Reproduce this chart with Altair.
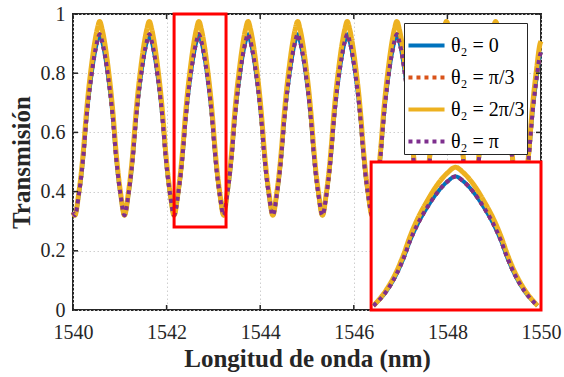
import altair as alt
import pandas as pd

# ---- data (wavelength in nm, transmission) ----
wavelength = [
    1540.000, 1540.041,
    1540.123, 1540.187, 1540.235, 1540.275, 1540.323, 1540.384, 1540.458, 1540.520, 1540.570,
    1540.620, 1540.682, 1540.756, 1540.817, 1540.865, 1540.905, 1540.953, 1541.017, 1541.100,
    1541.183, 1541.247, 1541.295, 1541.335, 1541.383, 1541.444, 1541.518, 1541.580, 1541.630,
    1541.680, 1541.742, 1541.816, 1541.877, 1541.925, 1541.965, 1542.013, 1542.077, 1542.160,
    1542.243, 1542.307, 1542.355, 1542.395, 1542.443, 1542.504, 1542.578, 1542.640, 1542.690,
    1542.740, 1542.802, 1542.876, 1542.937, 1542.985, 1543.025, 1543.073, 1543.137, 1543.220,
    1543.293, 1543.357, 1543.405, 1543.445, 1543.493, 1543.554, 1543.628, 1543.690, 1543.740,
    1543.790, 1543.852, 1543.926, 1543.987, 1544.035, 1544.075, 1544.123, 1544.187, 1544.270,
    1544.353, 1544.417, 1544.465, 1544.505, 1544.553, 1544.614, 1544.688, 1544.750, 1544.800,
    1544.850, 1544.912, 1544.986, 1545.047, 1545.095, 1545.135, 1545.183, 1545.247, 1545.330,
    1545.413, 1545.477, 1545.525, 1545.565, 1545.613, 1545.674, 1545.748, 1545.810, 1545.860,
    1545.910, 1545.972, 1546.046, 1546.107, 1546.155, 1546.195, 1546.243, 1546.307, 1546.390,
    1546.473, 1546.537, 1546.585, 1546.625, 1546.673, 1546.734, 1546.808, 1546.870, 1546.920,
    1546.970, 1547.032, 1547.106, 1547.167, 1547.215, 1547.255, 1547.303, 1547.367, 1547.450,
    1547.533, 1547.597, 1547.645, 1547.685, 1547.733, 1547.794, 1547.868, 1547.930, 1547.980,
    1548.030, 1548.092, 1548.166, 1548.227, 1548.275, 1548.315, 1548.363, 1548.427, 1548.510,
    1548.583, 1548.647, 1548.695, 1548.735, 1548.783, 1548.844, 1548.918, 1548.980, 1549.030,
    1549.080, 1549.142, 1549.216, 1549.277, 1549.325, 1549.365, 1549.413, 1549.477, 1549.560,
    1549.643, 1549.707, 1549.755, 1549.795, 1549.843, 1549.904, 1549.978, 1550.000,
]

t_theta_0 = [
    0.330, 0.320,
    0.388, 0.467, 0.546, 0.625, 0.703, 0.782, 0.861, 0.909, 0.932,
    0.909, 0.861, 0.782, 0.703, 0.625, 0.546, 0.467, 0.388, 0.320,
    0.388, 0.467, 0.546, 0.625, 0.703, 0.782, 0.861, 0.909, 0.932,
    0.909, 0.861, 0.782, 0.703, 0.625, 0.546, 0.467, 0.388, 0.320,
    0.388, 0.467, 0.546, 0.625, 0.703, 0.782, 0.861, 0.909, 0.932,
    0.909, 0.861, 0.782, 0.703, 0.625, 0.546, 0.467, 0.388, 0.320,
    0.388, 0.467, 0.546, 0.625, 0.703, 0.782, 0.861, 0.909, 0.932,
    0.909, 0.861, 0.782, 0.703, 0.625, 0.546, 0.467, 0.388, 0.320,
    0.388, 0.467, 0.546, 0.625, 0.703, 0.782, 0.861, 0.909, 0.932,
    0.909, 0.861, 0.782, 0.703, 0.625, 0.546, 0.467, 0.388, 0.320,
    0.388, 0.467, 0.546, 0.625, 0.703, 0.782, 0.861, 0.909, 0.932,
    0.909, 0.861, 0.782, 0.703, 0.625, 0.546, 0.467, 0.388, 0.320,
    0.388, 0.467, 0.546, 0.625, 0.703, 0.782, 0.861, 0.909, 0.932,
    0.909, 0.861, 0.782, 0.703, 0.625, 0.546, 0.467, 0.388, 0.320,
    0.388, 0.467, 0.546, 0.625, 0.703, 0.782, 0.861, 0.909, 0.932,
    0.909, 0.861, 0.782, 0.703, 0.625, 0.546, 0.467, 0.388, 0.320,
    0.388, 0.467, 0.546, 0.625, 0.703, 0.782, 0.861, 0.909, 0.932,
    0.909, 0.861, 0.782, 0.703, 0.625, 0.546, 0.467, 0.388, 0.320,
    0.388, 0.467, 0.546, 0.625, 0.703, 0.782, 0.861, 0.872,
]

t_theta_pi3 = list(t_theta_0)   # drawn exactly under theta2 = 0 / theta2 = pi

t_theta_2pi3 = [
    0.330, 0.320,
    0.395, 0.479, 0.563, 0.645, 0.728, 0.812, 0.898, 0.950, 0.975,
    0.950, 0.898, 0.812, 0.728, 0.645, 0.563, 0.479, 0.395, 0.320,
    0.395, 0.479, 0.563, 0.645, 0.728, 0.812, 0.898, 0.950, 0.975,
    0.950, 0.898, 0.812, 0.728, 0.645, 0.563, 0.479, 0.395, 0.320,
    0.395, 0.479, 0.563, 0.645, 0.728, 0.812, 0.898, 0.950, 0.975,
    0.950, 0.898, 0.812, 0.728, 0.645, 0.563, 0.479, 0.395, 0.320,
    0.395, 0.479, 0.563, 0.645, 0.728, 0.812, 0.898, 0.950, 0.975,
    0.950, 0.898, 0.812, 0.728, 0.645, 0.563, 0.479, 0.395, 0.320,
    0.395, 0.479, 0.563, 0.645, 0.728, 0.812, 0.898, 0.950, 0.975,
    0.950, 0.898, 0.812, 0.728, 0.645, 0.563, 0.479, 0.395, 0.320,
    0.395, 0.479, 0.563, 0.645, 0.728, 0.812, 0.898, 0.950, 0.975,
    0.950, 0.898, 0.812, 0.728, 0.645, 0.563, 0.479, 0.395, 0.320,
    0.395, 0.479, 0.563, 0.645, 0.728, 0.812, 0.898, 0.950, 0.975,
    0.950, 0.898, 0.812, 0.728, 0.645, 0.563, 0.479, 0.395, 0.320,
    0.395, 0.479, 0.563, 0.645, 0.728, 0.812, 0.898, 0.950, 0.975,
    0.950, 0.898, 0.812, 0.728, 0.645, 0.563, 0.479, 0.395, 0.320,
    0.395, 0.479, 0.563, 0.645, 0.728, 0.812, 0.898, 0.950, 0.975,
    0.950, 0.898, 0.812, 0.728, 0.645, 0.563, 0.479, 0.395, 0.320,
    0.395, 0.479, 0.563, 0.645, 0.728, 0.812, 0.898, 0.908,
]

t_theta_pi = list(t_theta_0)    # visually coincides with theta2 = 0

series_names = ["θ₂ = 0", "θ₂ = π/3", "θ₂ = 2π/3", "θ₂ = π"]
series_values = [t_theta_0, t_theta_pi3, t_theta_2pi3, t_theta_pi]

x_ticks = [1540, 1542, 1544, 1546, 1548, 1550]
y_ticks = [0, 0.2, 0.4, 0.6, 0.8, 1]

# highlighted region in the main plot and its zoomed copy (inset)
zoom_wl = [1542.145, 1543.242]
zoom_t = [0.30, 1.00]
highlight_box = {"x0": [1542.16], "x1": [1543.27], "y0": [0.28], "y1": [1.0]}
inset_box = {"x0": [1546.37], "x1": [1550.0], "y0": [0.0], "y1": [0.5]}

# ---- styles ----
FONT = "Liberation Serif"
colors = ["#0072BD", "#D95319", "#EDB120", "#7E2F8E"]
dashes = [[1, 0], [4, 4], [1, 0], [4, 4]]
widths = [4, 4, 5, 4]
W, H = 468, 296
AX = "#262626"
XT = "Longitud de onda (nm)"
YT = "Transmisión"
CURVE = "monotone"

rows = []
for name, vals in zip(series_names, series_values):
    for w, t in zip(wavelength, vals):
        rows.append({"wl": w, "t": t, "serie": name})
df = pd.DataFrame(rows)


def xenc(field):
    return alt.X(field, type="quantitative", title=XT,
                 scale=alt.Scale(domain=[1540, 1550], nice=False, zero=False),
                 axis=alt.Axis(values=x_ticks, format="d", labelPadding=12,
                               labelFlush=False, titlePadding=4,
                               labelFont=FONT, titleFont=FONT))


def yenc(field):
    return alt.Y(field, type="quantitative", title=YT,
                 scale=alt.Scale(domain=[0, 1], nice=False),
                 axis=alt.Axis(values=y_ticks, format="~g", labelPadding=8,
                               labelFlush=False, titlePadding=6,
                               labelFont=FONT, titleFont=FONT))


legend = alt.Legend(title=None, labelFont=FONT)
color_enc = alt.Color("serie:N", scale=alt.Scale(domain=series_names, range=colors),
                      legend=legend)
dash_enc = alt.StrokeDash("serie:N", scale=alt.Scale(domain=series_names, range=dashes),
                          legend=legend)

base = alt.Chart(df)

main_layers = []
inset_layers = []
for name, w in zip(series_names, widths):
    main_layers.append(
        base.mark_line(interpolate=CURVE, strokeWidth=w, strokeCap="butt")
        .transform_filter(alt.datum.serie == name)
        .encode(x=xenc("wl"), y=yenc("t"), color=color_enc, strokeDash=dash_enc)
    )
    inset_layers.append(
        base.mark_line(interpolate=CURVE, strokeWidth=w, strokeCap="butt")
        .transform_filter(alt.datum.serie == name)
        .transform_filter((alt.datum.wl >= zoom_wl[0]) & (alt.datum.wl <= zoom_wl[1]))
        .transform_calculate(
            xi=f"{inset_box['x0'][0]} + (datum.wl - {zoom_wl[0]}) / ({zoom_wl[1]} - {zoom_wl[0]}) * ({inset_box['x1'][0]} - {inset_box['x0'][0]})",
            yi=f"{inset_box['y0'][0]} + (datum.t - {zoom_t[0]}) / ({zoom_t[1]} - {zoom_t[0]}) * ({inset_box['y1'][0]} - {inset_box['y0'][0]})",
        )
        .encode(x=xenc("xi"), y=yenc("yi"), color=color_enc, strokeDash=dash_enc)
    )

xt_df = pd.DataFrame({"v": x_ticks})
yt_df = pd.DataFrame({"v": y_ticks})
tick_kw = dict(color=AX, strokeWidth=1.5)
ticks = [
    alt.Chart(xt_df).mark_rule(**tick_kw).encode(x=xenc("v"), y=alt.value(H), y2=alt.value(H - 5)),
    alt.Chart(xt_df).mark_rule(**tick_kw).encode(x=xenc("v"), y=alt.value(0), y2=alt.value(5)),
    alt.Chart(yt_df).mark_rule(**tick_kw).encode(y=yenc("v"), x=alt.value(0), x2=alt.value(5)),
    alt.Chart(yt_df).mark_rule(**tick_kw).encode(y=yenc("v"), x=alt.value(W), x2=alt.value(W - 5)),
]

hl = alt.Chart(pd.DataFrame(highlight_box)).mark_rect(
    fillOpacity=0, stroke="#FF0000", strokeWidth=3
).encode(x=xenc("x0"), x2="x1", y=yenc("y0"), y2="y1")

inset_bg = alt.Chart(pd.DataFrame(inset_box)).mark_rect(
    fill="white", stroke="#FF0000", strokeWidth=3
).encode(x=xenc("x0"), x2="x1", y=yenc("y0"), y2="y1")

chart = alt.layer(*main_layers, *ticks, hl, inset_bg, *inset_layers).properties(
    width=W, height=H,
    autosize=alt.AutoSizeParams(type="none"),
    padding={"left": 73, "top": 14, "right": 564 - 73 - W, "bottom": 377 - 14 - H},
    background="white",
).configure(font=FONT).configure_view(
    stroke=AX, strokeWidth=2
).configure_axis(
    grid=True, gridColor="#cfcfcf", gridDash=[1.5, 2.5], gridWidth=1,
    domain=False, ticks=False,
    labelFont=FONT, labelFontSize=20, labelColor=AX,
    titleFont=FONT, titleFontSize=25, titleFontWeight="bold", titleColor=AX,
).configure_legend(
    orient="none", legendX=331, legendY=9,
    fillColor="white", strokeColor=AX, padding=2,
    labelFont=FONT, labelFontSize=20, labelColor="black", labelOffset=4,
    symbolType="stroke", symbolSize=1300, symbolStrokeWidth=4, rowPadding=1,
)

chart.save("out.html", embed_options={"renderer": "svg", "actions": False})
